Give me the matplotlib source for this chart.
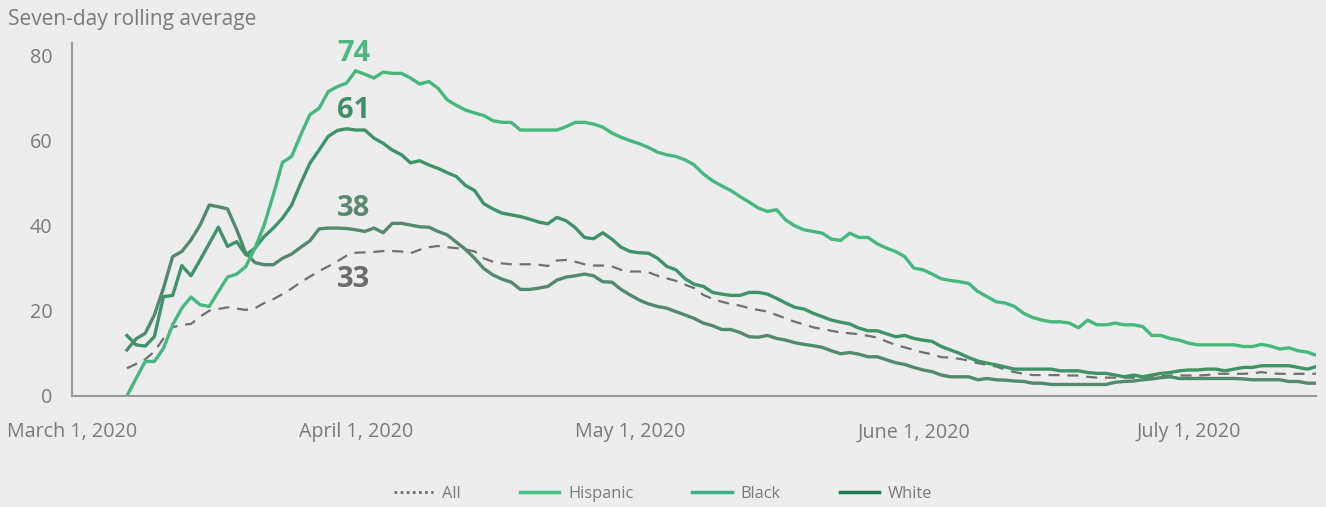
import matplotlib
matplotlib.use("Agg")
import matplotlib.pyplot as plt
from matplotlib.lines import Line2D
import pandas as pd

# daily seven-day averages, March 7 to July 15, 2020
dates = pd.date_range("2020-03-07", "2020-07-15", freq="D")

hispanic = [
    0.0, 4.1, 8.1, 8.1, 11.2, 16.7, 20.6, 23.2, 21.4, 21.0, 24.5, 27.9, 28.6, 30.4,
    34.7, 40.1, 47.2, 54.8, 56.2, 61.3, 66.0, 67.5, 71.4, 72.6, 73.4, 76.3, 75.5, 74.6,
    76.0, 75.7, 75.7, 74.6, 73.2, 73.8, 72.2, 69.5, 68.2, 67.1, 66.4, 65.8, 64.6, 64.2,
    64.2, 62.4, 62.4, 62.4, 62.4, 62.4, 63.2, 64.2, 64.2, 63.8, 63.1, 61.7, 60.7, 59.9,
    59.2, 58.3, 57.2, 56.6, 56.2, 55.4, 54.2, 52.1, 50.5, 49.3, 48.2, 46.8, 45.5, 44.1,
    43.3, 43.7, 41.3, 39.9, 39.0, 38.6, 38.2, 36.8, 36.5, 38.2, 37.2, 37.2, 35.7, 34.7,
    33.9, 32.7, 30.0, 29.6, 28.6, 27.5, 27.1, 26.8, 26.4, 24.5, 23.3, 22.1, 21.8, 21.0,
    19.4, 18.4, 17.8, 17.4, 17.4, 17.1, 16.0, 17.8, 16.7, 16.7, 17.1, 16.7, 16.7, 16.3,
    14.2, 14.2, 13.5, 13.1, 12.4, 12.0, 12.0, 12.0, 12.0, 12.0, 11.6, 11.6, 12.1, 11.7,
    11.0, 11.3, 10.6, 10.3, 9.5,
]
black = [
    14.2, 12.0, 11.7, 13.9, 23.3, 23.6, 30.6, 28.2, 31.9, 35.8, 39.6, 35.1, 36.2, 33.1,
    34.7, 37.4, 39.4, 41.7, 44.8, 49.9, 54.6, 57.7, 60.9, 62.3, 62.7, 62.4, 62.4, 60.5,
    59.3, 57.7, 56.6, 54.7, 55.2, 54.2, 53.4, 52.4, 51.5, 49.4, 48.2, 45.1, 43.9, 42.9,
    42.5, 42.1, 41.5, 40.8, 40.4, 41.9, 41.1, 39.5, 37.2, 36.9, 38.3, 36.8, 34.9, 33.9,
    33.6, 33.5, 32.3, 30.4, 29.6, 27.5, 26.2, 25.7, 24.3, 23.9, 23.6, 23.6, 24.3, 24.3,
    23.9, 22.9, 21.8, 20.8, 20.4, 19.4, 18.6, 17.8, 17.3, 16.9, 15.9, 15.3, 15.3, 14.6,
    13.9, 14.2, 13.5, 13.1, 12.8, 11.6, 10.8, 10.0, 9.0, 8.2, 7.7, 7.3, 6.8, 6.3,
    6.3, 6.3, 6.3, 6.3, 5.9, 5.9, 5.9, 5.5, 5.3, 5.3, 4.9, 4.5, 4.9, 4.5, 4.9, 5.3,
    5.5, 5.9, 6.1, 6.1, 6.3, 6.3, 5.9, 6.3, 6.7, 6.7, 7.1, 7.1, 7.1, 7.1, 6.7, 6.3,
    6.9,
]
white = [
    10.8, 13.4, 14.7, 19.0, 25.3, 32.7, 33.9, 36.6, 40.1, 44.8, 44.4, 43.9, 39.0, 33.5,
    31.3, 30.8, 30.8, 32.3, 33.3, 34.9, 36.4, 39.2, 39.4, 39.4, 39.3, 39.0, 38.6, 39.4,
    38.3, 40.5, 40.5, 40.1, 39.7, 39.6, 38.6, 37.8, 36.1, 34.4, 32.3, 29.9, 28.4, 27.4,
    26.7, 25.0, 25.0, 25.3, 25.7, 27.2, 27.9, 28.2, 28.6, 28.2, 26.8, 26.7, 25.0, 23.7,
    22.5, 21.6, 21.0, 20.6, 19.8, 19.0, 18.2, 17.1, 16.5, 15.6, 15.6, 14.9, 13.9, 13.8,
    14.2, 13.5, 13.1, 12.5, 12.1, 11.8, 11.4, 10.6, 9.9, 10.2, 9.8, 9.2, 9.2, 8.5,
    7.8, 7.4, 6.7, 6.1, 5.7, 4.9, 4.5, 4.5, 4.5, 3.8, 4.1, 3.8, 3.7, 3.5,
    3.4, 3.0, 3.0, 2.7, 2.7, 2.7, 2.7, 2.7, 2.7, 2.7, 3.2, 3.4, 3.5, 3.8, 4.0, 4.3,
    4.5, 4.1, 4.1, 4.1, 4.1, 4.1, 4.1, 4.1, 4.0, 3.8, 3.8, 3.8, 3.8, 3.4, 3.4, 3.0,
    3.0,
]
all_groups = [
    6.5, 7.5, 8.6, 10.4, 13.5, 16.1, 16.7, 16.9, 18.6, 20.0, 20.4, 20.8, 20.5, 20.2,
    20.6, 21.8, 22.7, 23.9, 25.2, 26.7, 28.0, 29.3, 30.4, 31.6, 32.9, 33.6, 33.7, 33.8,
    34.0, 34.0, 33.9, 33.5, 34.3, 34.9, 35.2, 34.9, 34.7, 34.4, 33.9, 32.3, 31.5, 31.1,
    30.9, 30.9, 30.9, 30.8, 30.5, 31.8, 31.9, 31.5, 30.9, 30.6, 30.6, 30.4, 29.6, 29.2,
    29.2, 29.0, 28.2, 27.6, 27.0, 26.1, 25.3, 23.7, 22.8, 22.1, 21.6, 21.2, 20.6, 20.2,
    19.8, 19.0, 18.2, 17.4, 16.8, 16.1, 15.7, 15.3, 14.9, 14.7, 14.5, 14.1, 13.7, 12.8,
    12.0, 11.4, 10.8, 10.2, 9.8, 9.1, 9.0, 8.7, 8.3, 7.7, 7.3, 6.9, 6.2, 5.6,
    5.2, 4.9, 4.9, 4.9, 4.9, 4.8, 4.8, 4.5, 4.3, 4.3, 4.3, 4.3, 4.3, 4.3, 4.5, 4.7,
    4.8, 4.8, 4.8, 4.8, 4.9, 5.2, 5.2, 5.2, 5.2, 5.3, 5.6, 5.3, 5.2, 5.2, 5.2, 5.2,
    5.2,
]

tick_dates = ["2020-03-01", "2020-04-01", "2020-05-01", "2020-06-01", "2020-07-01"]
tick_labels = ["March 1, 2020", "April 1, 2020", "May 1, 2020", "June 1, 2020", "July 1, 2020"]

bg = "#ededed"
grey = "#7a7a7a"
plt.rcParams["font.family"] = ["Open Sans", "DejaVu Sans"]

fig = plt.figure(figsize=(13.26, 5.07), dpi=100, facecolor=bg)
ax = fig.add_axes([0.0543, 0.219, 0.9385, 0.696], facecolor=bg)

ax.plot(dates, all_groups, color="#707070", lw=1.6, dashes=(5, 3.5))
ax.plot(dates, white, color="#52896f", lw=2.4)
ax.plot(dates, black, color="#3e9468", lw=2.4)
ax.plot(dates, hispanic, color="#45b97c", lw=2.4)

ax.set_xlim(pd.Timestamp("2020-03-01"), pd.Timestamp("2020-07-15"))
ax.set_ylim(0, 82.8)
ax.set_yticks([0, 20, 40, 60, 80])
ax.set_xticks(pd.to_datetime(tick_dates))
ax.set_xticklabels(tick_labels)
ax.tick_params(length=0, labelsize=14.2, labelcolor=grey)
ax.tick_params(axis="y", pad=14)
ax.tick_params(axis="x", pad=19)
for s in ["top", "right"]:
    ax.spines[s].set_visible(False)
for s in ["left", "bottom"]:
    ax.spines[s].set_color("#9a9a9a")
    ax.spines[s].set_linewidth(1.5)

# peak labels
lab_x = pd.Timestamp("2020-03-31 18:00")
ax.text(lab_x, 80.4, "74", color="#4cb87f", fontsize=21, fontweight="bold", ha="center", va="center")
ax.text(lab_x, 67.0, "61", color="#3f8f66", fontsize=21, fontweight="bold", ha="center", va="center")
ax.text(lab_x, 44.0, "38", color="#5a8a6e", fontsize=21, fontweight="bold", ha="center", va="center")
ax.text(lab_x, 27.3, "33", color="#6b6b6b", fontsize=21, fontweight="bold", ha="center", va="center")

fig.text(0.006, 0.962, "Seven-day rolling average", fontsize=15, color=grey, va="center")

handles = [
    Line2D([], [], color="#6e6e6e", lw=2, ls=(0, (1, 1.2))),
    Line2D([], [], color="#45c17f", lw=2.5),
    Line2D([], [], color="#3fae8c", lw=2.5),
    Line2D([], [], color="#1f7a52", lw=2.5),
]
fig.legend(handles, ["All", "Hispanic", "Black", "White"], loc="center",
           bbox_to_anchor=(0.5, 0.026), ncol=4, frameon=False, fontsize=11.8,
           labelcolor=grey, handlelength=2.4, handletextpad=0.55, columnspacing=3.6)

fig.savefig("out.png", dpi=100, facecolor=bg)
